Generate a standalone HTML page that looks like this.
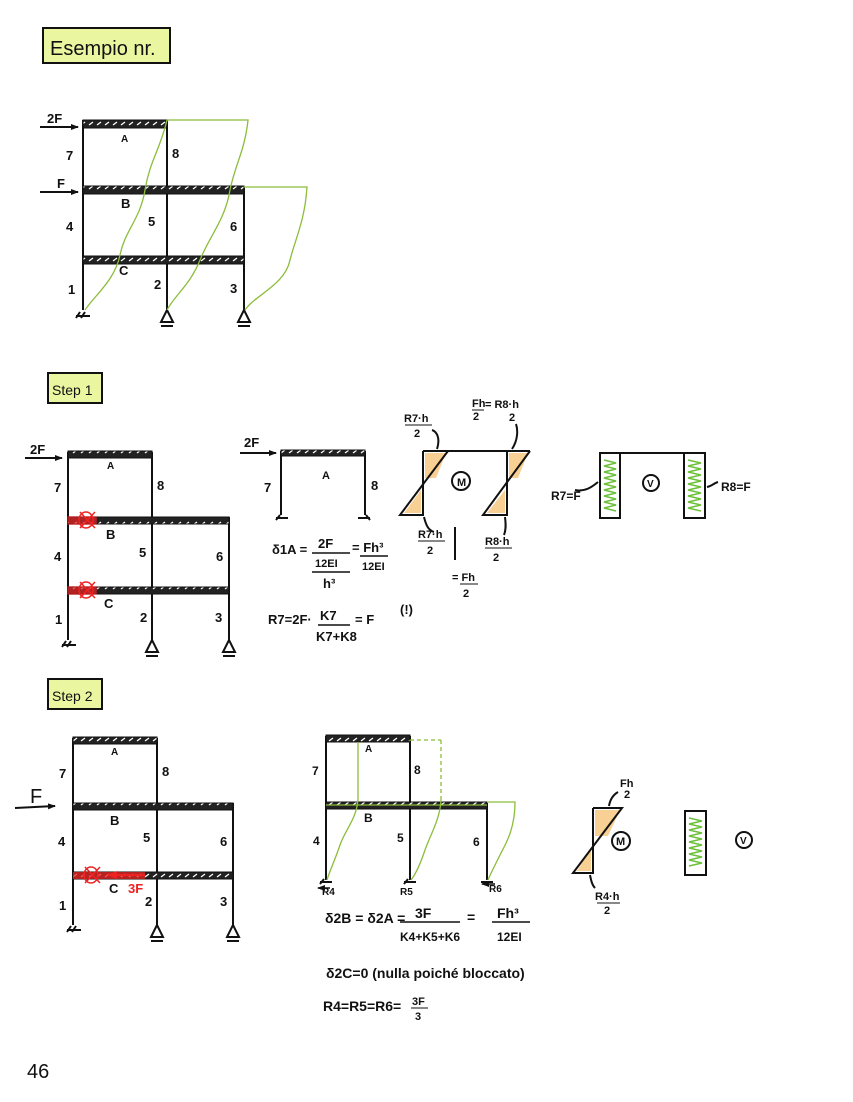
<!DOCTYPE html>
<html><head><meta charset="utf-8"><style>
html,body{margin:0;padding:0;background:#fff}
svg{display:block}
text{font-family:"Liberation Sans",sans-serif;fill:#111}
</style></head><body>
<svg width="853" height="1102" viewBox="0 0 853 1102" xmlns="http://www.w3.org/2000/svg">
<defs>
<pattern id="h" width="8" height="8" patternUnits="userSpaceOnUse">
<rect width="8" height="8" fill="#222"/><path d="M1 5 L5 2" stroke="#fff" stroke-width="1.3"/>
</pattern>
<marker id="ar" markerUnits="userSpaceOnUse" markerWidth="8" markerHeight="8" refX="7" refY="4" orient="auto"><path d="M0 1 L8 4 L0 7z" fill="#111"/></marker>
<marker id="arr" markerUnits="userSpaceOnUse" markerWidth="10" markerHeight="10" refX="9" refY="5" orient="auto"><path d="M0 1 L10 5 L0 9z" fill="#e22"/></marker>
</defs>
<g stroke="#111" stroke-width="2" fill="none">
<rect x="43" y="28" width="127" height="35" fill="#eaf7a0"/>
<rect x="48" y="373" width="54" height="30" fill="#eaf7a0"/>
<rect x="48" y="679" width="54" height="30" fill="#eaf7a0"/>
</g>
<text x="50" y="55" font-size="20">Esempio nr.</text>
<text x="52" y="395" font-size="14">Step 1</text>
<text x="52" y="701" font-size="14">Step 2</text>

<!-- FRAME 1 -->
<g stroke="#111" stroke-width="2" fill="none">
<line x1="83" y1="120" x2="83" y2="310"/><line x1="167" y1="120" x2="167" y2="310"/><line x1="244" y1="187" x2="244" y2="310"/>
<path d="M76 316h14M80 312l-4 6M85 312l-4 6"/>
<path d="M167 310l-6 12h12z M161 326h12"/><path d="M244 310l-6 12h12z M238 326h12"/>
<line x1="40" y1="127" x2="78" y2="127" marker-end="url(#ar)"/>
<line x1="40" y1="192" x2="78" y2="192" marker-end="url(#ar)"/>
</g>
<rect x="83" y="120" width="84" height="8" fill="url(#h)" stroke="#111"/>
<rect x="83" y="186" width="161" height="8" fill="url(#h)" stroke="#111"/>
<rect x="83" y="256" width="161" height="8" fill="url(#h)" stroke="#111"/>
<g stroke="#8bbd3a" stroke-width="1.3" fill="none">
<path d="M167 120 C160 150 150 160 145 190 C140 220 125 230 120 255 C115 280 95 295 85 310"/>
<path d="M167 120 H248 C245 150 235 165 230 190 C225 220 210 235 200 260 C190 285 175 295 167 310"/>
<path d="M244 187 H307 C305 220 295 240 290 260 C285 285 255 295 245 310"/>
</g>
<g font-size="13" font-weight="bold">
<text x="47" y="123">2F</text><text x="57" y="188">F</text>
<text x="121" y="142" font-size="10">A</text><text x="66" y="160">7</text><text x="172" y="158">8</text>
<text x="121" y="208">B</text><text x="66" y="231">4</text><text x="148" y="226">5</text><text x="230" y="231">6</text>
<text x="119" y="275">C</text><text x="68" y="294">1</text><text x="154" y="289">2</text><text x="230" y="293">3</text>
</g>

<!-- FRAME 2 (step 1) -->
<g stroke="#111" stroke-width="2" fill="none">
<line x1="68" y1="452" x2="68" y2="640"/><line x1="152" y1="452" x2="152" y2="640"/><line x1="229" y1="517" x2="229" y2="640"/>
<path d="M62 645h14M66 641l-4 6M71 641l-4 6"/>
<path d="M152 640l-6 12h12z M146 656h12"/><path d="M229 640l-6 12h12z M223 656h12"/>
<line x1="25" y1="458" x2="62" y2="458" marker-end="url(#ar)"/>
</g>
<rect x="68" y="451" width="84" height="7" fill="url(#h)" stroke="#111"/>
<rect x="68" y="517" width="161" height="7" fill="url(#h)" stroke="#111"/>
<rect x="68" y="587" width="161" height="7" fill="url(#h)" stroke="#111"/>
<g stroke="#e22" stroke-width="1.5" fill="none">
<rect x="68" y="517" width="28" height="7" fill="#e22" opacity=".7"/>
<path d="M80 512 L95 528 M95 512 L80 528 M79 520 a7 8 0 1 0 14 0 a7 8 0 1 0 -14 0"/>
<rect x="68" y="587" width="28" height="7" fill="#e22" opacity=".7"/>
<path d="M80 582 L95 598 M95 582 L80 598 M79 590 a7 8 0 1 0 14 0 a7 8 0 1 0 -14 0"/>
</g>
<g font-size="13" font-weight="bold">
<text x="30" y="454">2F</text>
<text x="107" y="469" font-size="10">A</text><text x="54" y="492">7</text><text x="157" y="490">8</text>
<text x="106" y="539">B</text><text x="54" y="561">4</text><text x="139" y="557">5</text><text x="216" y="561">6</text>
<text x="104" y="608">C</text><text x="55" y="624">1</text><text x="140" y="622">2</text><text x="215" y="622">3</text>
</g>

<!-- portal -->
<g stroke="#111" stroke-width="2" fill="none">
<line x1="281" y1="451" x2="281" y2="515"/><line x1="365" y1="451" x2="365" y2="515"/>
<path d="M276 518h12M280 515l-4 5M370 518h-12M366 515l4 5"/>
<line x1="240" y1="453" x2="276" y2="453" marker-end="url(#ar)"/>
</g>
<rect x="281" y="450" width="84" height="6" fill="url(#h)" stroke="#111"/>
<g font-size="13" font-weight="bold">
<text x="244" y="447">2F</text><text x="322" y="479" font-size="11">A</text><text x="264" y="492">7</text><text x="371" y="490">8</text>
</g>

<!-- M diagram step1 -->
<polygon points="425,453 446,453 436,478 425,478" fill="#f2a93a" opacity=".55"/>
<polygon points="421,490 421,513 404,513" fill="#f2a93a" opacity=".55"/>
<polygon points="509,453 528,453 518,478 509,478" fill="#f2a93a" opacity=".55"/>
<polygon points="505,490 505,513 487,513" fill="#f2a93a" opacity=".55"/>
<g stroke="#111" stroke-width="2" fill="none">
<path d="M423 451 H530 M423 451 V515 H400 L448 451 M507 451 V515 H483 L530 451"/>
<circle cx="461" cy="481" r="9"/>
<path d="M437 449 C440 440 438 432 432 430 M512 449 C518 440 518 430 516 424 M424 517 C426 525 428 530 434 532 M505 517 C506 525 506 530 504 535"/>
<path d="M455 527 V560"/>
</g>
<g font-size="11" font-weight="bold">
<text x="457" y="486">M</text>
<text x="404" y="422">R7·h</text><line x1="405" y1="425" x2="432" y2="425" stroke="#111"/><text x="414" y="437">2</text>
<text x="472" y="407">Fh</text><line x1="472" y1="410" x2="484" y2="410" stroke="#111"/><text x="473" y="420">2</text>
<text x="485" y="408">= R8·h</text><text x="509" y="421">2</text>
<text x="418" y="538">R7·h</text><line x1="418" y1="541" x2="445" y2="541" stroke="#111"/><text x="427" y="554">2</text>
<text x="485" y="545">R8·h</text><line x1="485" y1="548" x2="512" y2="548" stroke="#111"/><text x="493" y="561">2</text>
<text x="452" y="581">= Fh</text><line x1="460" y1="584" x2="478" y2="584" stroke="#111"/><text x="463" y="597">2</text>
</g>

<!-- V diagram step1 -->
<g stroke="#111" stroke-width="2" fill="none">
<path d="M600 453 H705"/>
<rect x="600" y="453" width="20" height="65"/><rect x="684" y="453" width="21" height="65"/>
<circle cx="651" cy="483" r="8"/>
<path d="M575 490 C585 492 592 487 598 482 M707 487 C712 486 714 483 718 482"/>
</g>
<g stroke="#6cc03a" stroke-width="1.5" fill="none">
<path d="M604 460 l12 3 -12 3 12 3 -12 3 12 3 -12 3 12 3 -12 3 12 3 -12 3 12 3 -12 3 12 3 -12 3 12 3 -12 3 12 3"/>
<path d="M688 460 l13 3 -13 3 13 3 -13 3 13 3 -13 3 13 3 -13 3 13 3 -13 3 13 3 -13 3 13 3 -13 3 13 3 -13 3 13 3"/>
</g>
<g font-size="12" font-weight="bold">
<text x="647" y="487" font-size="10">V</text>
<text x="551" y="500">R7=F</text><text x="721" y="491">R8=F</text>
</g>

<!-- formulas step1 -->
<g font-size="13" font-weight="bold">
<text x="272" y="554">δ1A =</text>
<text x="318" y="548">2F</text><line x1="312" y1="553" x2="350" y2="553" stroke="#111" stroke-width="1.5"/>
<text x="315" y="567" font-size="11">12EI</text><line x1="312" y1="572" x2="350" y2="572" stroke="#111" stroke-width="1.5"/>
<text x="323" y="588">h³</text>
<text x="352" y="552">= Fh³</text><line x1="360" y1="556" x2="388" y2="556" stroke="#111" stroke-width="1.5"/>
<text x="362" y="570" font-size="11">12EI</text>
<text x="268" y="624">R7=2F·</text><text x="320" y="620">K7</text>
<line x1="318" y1="625" x2="350" y2="625" stroke="#111" stroke-width="1.5"/>
<text x="316" y="641">K7+K8</text><text x="355" y="624">= F</text><text x="400" y="614">(!)</text>
</g>

<!-- FRAME 3 (step 2 left) -->
<g stroke="#111" stroke-width="2" fill="none">
<line x1="73" y1="738" x2="73" y2="925"/><line x1="157" y1="738" x2="157" y2="925"/><line x1="233" y1="803" x2="233" y2="925"/>
<path d="M67 930h14M71 926l-4 6M76 926l-4 6"/>
<path d="M157 925l-6 12h12z M151 941h12"/><path d="M233 925l-6 12h12z M227 941h12"/>
<line x1="15" y1="808" x2="55" y2="806" marker-end="url(#ar)"/>
</g>
<rect x="73" y="737" width="84" height="7" fill="url(#h)" stroke="#111"/>
<rect x="73" y="803" width="160" height="7" fill="url(#h)" stroke="#111"/>
<rect x="73" y="872" width="160" height="7" fill="url(#h)" stroke="#111"/>
<rect x="73" y="872" width="72" height="7" fill="#e22" opacity=".75"/>
<g stroke="#e22" stroke-width="1.5" fill="none">
<path d="M85 867 L100 883 M100 867 L85 883 M84 875 a7 8 0 1 0 14 0 a7 8 0 1 0 -14 0"/>
<line x1="145" y1="875" x2="108" y2="875" stroke-width="2" marker-end="url(#arr)"/>
</g>
<g font-size="13" font-weight="bold">
<text x="30" y="803" font-size="20" font-weight="normal">F</text>
<text x="111" y="755" font-size="10">A</text><text x="59" y="778">7</text><text x="162" y="776">8</text>
<text x="110" y="825">B</text><text x="58" y="846">4</text><text x="143" y="842">5</text><text x="220" y="846">6</text>
<text x="109" y="893">C</text><text x="128" y="893" style="fill:#e22">3F</text>
<text x="59" y="910">1</text><text x="145" y="906">2</text><text x="220" y="906">3</text>
</g>

<!-- FRAME 4 -->
<g stroke="#111" stroke-width="2" fill="none">
<line x1="326" y1="736" x2="326" y2="880"/><line x1="410" y1="736" x2="410" y2="880"/><line x1="487" y1="803" x2="487" y2="880"/>
<path d="M320 882h12M324 879l-4 5M404 882h12M408 879l-4 5M481 882h12"/>
</g>
<rect x="326" y="735" width="84" height="7" fill="url(#h)" stroke="#111"/>
<rect x="326" y="802" width="161" height="7" fill="url(#h)" stroke="#111"/>
<g stroke="#8bbd3a" stroke-width="1.3" fill="none">
<path d="M358 742 V800 C356 820 345 830 340 845 C335 860 330 870 327 880"/>
<path d="M410 740 H441 M441 740 V800" stroke-dasharray="4 3"/>
<path d="M441 800 C440 820 430 835 425 850 C420 865 415 875 411 880"/>
<path d="M487 802 H515 C515 830 505 845 500 855 C495 865 490 875 488 880"/>
<path d="M326 805 H487"/>
</g>
<g font-size="12" font-weight="bold">
<text x="365" y="752" font-size="10">A</text><text x="312" y="775">7</text><text x="414" y="774">8</text>
<text x="364" y="822">B</text><text x="313" y="845">4</text><text x="397" y="842">5</text><text x="473" y="846">6</text>
<text x="322" y="895" font-size="10">R4</text><text x="400" y="895" font-size="10">R5</text><text x="489" y="892" font-size="10">R6</text>
</g>
<g stroke="#111" stroke-width="1.5" fill="none">
<line x1="330" y1="888" x2="318" y2="888" marker-end="url(#ar)"/>
<line x1="495" y1="884" x2="482" y2="884" marker-end="url(#ar)"/>
</g>

<!-- M/V step 2 -->
<polygon points="595,810 620,810 608,836 595,836" fill="#f2a93a" opacity=".55"/>
<polygon points="591,848 591,871 577,871" fill="#f2a93a" opacity=".55"/>
<g stroke="#111" stroke-width="2" fill="none">
<path d="M593 808 H622 L573 873 H593 V808"/>
<circle cx="621" cy="841" r="9"/>
<rect x="685" y="811" width="21" height="64"/>
<circle cx="744" cy="840" r="8"/>
<path d="M609 806 C610 800 613 795 618 792 M590 875 C591 880 592 885 595 888"/>
</g>
<path d="M689 818 l13 3 -13 3 13 3 -13 3 13 3 -13 3 13 3 -13 3 13 3 -13 3 13 3 -13 3 13 3 -13 3 13 3 -13 3" stroke="#6cc03a" stroke-width="1.5" fill="none"/>
<g font-size="11" font-weight="bold">
<text x="616" y="845">M</text><text x="740" y="844" font-size="10">V</text>
<text x="620" y="787">Fh</text><text x="624" y="798">2</text>
<text x="595" y="900">R4·h</text><line x1="597" y1="903" x2="620" y2="903" stroke="#111"/><text x="604" y="914">2</text>
</g>

<!-- formulas step 2 -->
<g font-size="14" font-weight="bold">
<text x="325" y="923">δ2B = δ2A =</text>
<text x="415" y="918">3F</text><line x1="400" y1="922" x2="460" y2="922" stroke="#111" stroke-width="1.5"/>
<text x="400" y="941" font-size="12">K4+K5+K6</text>
<text x="467" y="922">=</text>
<text x="497" y="918">Fh³</text><line x1="492" y1="922" x2="530" y2="922" stroke="#111" stroke-width="1.5"/>
<text x="497" y="941" font-size="12">12EI</text>
<text x="326" y="978">δ2C=0  (nulla poiché bloccato)</text>
<text x="323" y="1011">R4=R5=R6=</text>
<text x="412" y="1005" font-size="11">3F</text><line x1="411" y1="1008" x2="428" y2="1008" stroke="#111"/><text x="415" y="1020" font-size="11">3</text>
</g>
<text x="27" y="1078" font-size="20">46</text>
</svg>
</body></html>
